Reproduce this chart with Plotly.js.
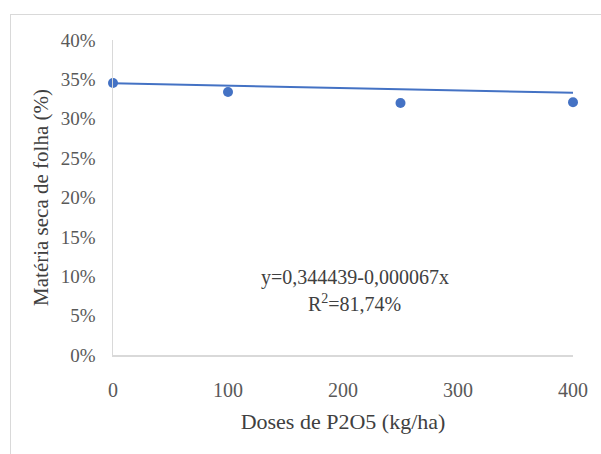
<!DOCTYPE html>
<html>
<head>
<meta charset="utf-8">
<script src="https://cdn.plot.ly/plotly-3.0.1.min.js"></script>
<style>
html,body{margin:0;padding:0;background:#fff;}
#frame{position:absolute;left:10px;top:14px;width:620px;height:470px;border:1.5px solid #d9d9d9;box-sizing:border-box;}
#chart{position:absolute;left:0;top:0;width:601px;height:454px;}
</style>
</head>
<body>
<div id="frame"></div>
<div id="chart"></div>
<script>
// Data
var doses = [0, 100, 250, 400];
var materiaSeca = [0.3455, 0.334, 0.320, 0.321];
var trendX = [0, 400];
var trendY = [0.345, 0.333];
var xTicks = [0, 100, 200, 300, 400];
var yTicks = [0, 0.05, 0.10, 0.15, 0.20, 0.25, 0.30, 0.35, 0.40];
var equationLine = 'y=0,344439-0,000067x';
var r2Line = 'R<sup>2</sup>=81,74%';

var serif = 'Liberation Serif, Times New Roman, serif';

var traces = [
  {x: trendX, y: trendY, mode: 'lines', type: 'scatter',
   line: {color: '#4472C4', width: 2}, hoverinfo: 'skip', cliponaxis: false},
  {x: doses, y: materiaSeca, mode: 'markers', type: 'scatter',
   marker: {color: '#4472C4', size: 10}, cliponaxis: false}
];

var layout = {
  width: 601, height: 454,
  margin: {l: 113, r: 28, t: 40, b: 99},
  paper_bgcolor: 'rgba(0,0,0,0)',
  plot_bgcolor: 'rgba(0,0,0,0)',
  showlegend: false,
  xaxis: {
    range: [0, 400], tickvals: xTicks, ticktext: xTicks.map(String),
    showgrid: false, zeroline: false, showline: true, linecolor: '#d9d9d9', linewidth: 1.5,
    ticks: '', ticklabelstandoff: 16,
    tickfont: {family: serif, size: 20, color: '#595959'},
    title: {text: 'Doses de P2O5 (kg/ha)', font: {family: serif, size: 22, color: '#404040'}, standoff: 14},
    automargin: false, fixedrange: true
  },
  yaxis: {
    range: [0, 0.4], tickvals: yTicks, tickformat: '.0%',
    showgrid: false, zeroline: false, showline: true, linecolor: '#d9d9d9', linewidth: 1.5,
    ticks: '', ticklabelstandoff: 12,
    tickfont: {family: serif, size: 19, color: '#595959'},
    title: {text: 'Matéria seca de folha (%)', font: {family: serif, size: 21, color: '#404040'}, standoff: 6},
    automargin: false, fixedrange: true
  },
  annotations: [
    {xref: 'x', yref: 'y', x: 210, y: 0.0978, text: equationLine, showarrow: false,
     font: {family: serif, size: 20, color: '#404040'}, xanchor: 'center', yanchor: 'middle'},
    {xref: 'x', yref: 'y', x: 210, y: 0.066, text: r2Line, showarrow: false,
     font: {family: serif, size: 20, color: '#404040'}, xanchor: 'center', yanchor: 'middle'}
  ]
};

Plotly.newPlot('chart', traces, layout, {displayModeBar: false, staticPlot: true});
</script>
</body>
</html>
